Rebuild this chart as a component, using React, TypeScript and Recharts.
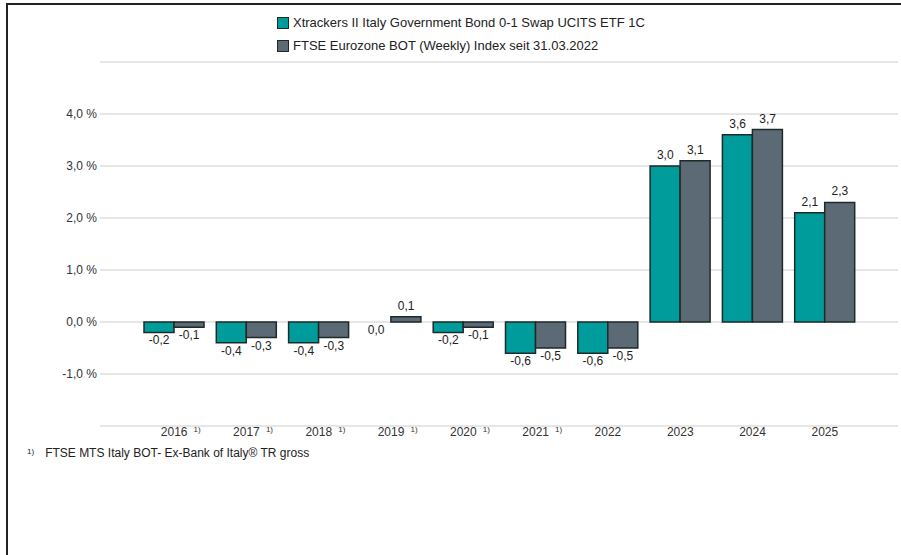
import { ComposedChart, Bar, Line, XAxis, YAxis, CartesianGrid, LabelList } from "recharts";

const years = ["2016", "2017", "2018", "2019", "2020", "2021", "2022", "2023", "2024", "2025"];
const footnoted = ["2016", "2017", "2018", "2019", "2020", "2021"];
const etfValues = [-0.2, -0.4, -0.4, 0.0, -0.2, -0.6, -0.6, 3.0, 3.6, 2.1];
const indexValues = [-0.1, -0.3, -0.3, 0.1, -0.1, -0.5, -0.5, 3.1, 3.7, 2.3];
const yTicks = [-2, -1, 0, 1, 2, 3, 4, 5];

const ETF_NAME = "Xtrackers II Italy Government Bond 0-1 Swap UCITS ETF 1C";
const INDEX_NAME = "FTSE Eurozone BOT (Weekly) Index seit 31.03.2022";
const FOOTNOTE = "FTSE MTS Italy BOT- Ex-Bank of Italy® TR gross";

const TEAL = "#009c9b";
const SLATE = "#5b6a75";
const OUTLINE = "#1e2a2a";
const GRID = "#e6e6e6";
const FONT = "'Liberation Sans', Arial, sans-serif";
const BAR_W = 30;
const W = 901;
const H = 555;
const MARGIN = { top: 62, right: 3, left: 0, bottom: 99 };

const data = years.map((year, i) => ({
  year,
  etf: etfValues[i],
  index: indexValues[i],
}));

const fmt = (v: number) => v.toFixed(1).replace(".", ",");

// labels hang off an invisible line so that a 0,0 value still gets one;
// shift sideways onto the matching bar, above positives, below zero/negatives
const makeLabel = (dx: number) => (props: any) => {
  const { x, y, value } = props;
  const cy = value > 0 ? y - 11 : y + 8;
  return (
    <text
      x={x + dx}
      y={cy}
      textAnchor="middle"
      dominantBaseline="central"
      fontSize={12}
      fontFamily={FONT}
      fill="#222"
    >
      {fmt(value)}
    </text>
  );
};

const YearTick = (props: any) => {
  const { x, y, payload } = props;
  const note = footnoted.includes(payload.value);
  return (
    <g>
      <text x={x} y={y - 2} textAnchor="middle" dominantBaseline="central" fontSize={12} fontFamily={FONT} fill="#333">
        {payload.value}
      </text>
      {note && (
        <text x={x + 23} y={y - 5} textAnchor="middle" dominantBaseline="central" fontSize={8} fontFamily={FONT} fill="#333">
          1)
        </text>
      )}
    </g>
  );
};

const LegendBox = () => (
  <div style={{ fontFamily: FONT, fontSize: 13, color: "#222", lineHeight: "23px" }}>
    {[
      [TEAL, ETF_NAME],
      [SLATE, INDEX_NAME],
    ].map(([color, name]) => (
      <div key={name} style={{ display: "flex", alignItems: "center" }}>
        <span
          style={{
            display: "inline-block",
            width: 10,
            height: 10,
            background: color,
            border: `1px solid ${OUTLINE}`,
            marginRight: 4,
          }}
        />
        {name}
      </div>
    ))}
  </div>
);

export default function App() {
  return (
    <div
      style={{
        position: "absolute",
        left: 0,
        top: 0,
        width: W,
        height: H,
        background: "#fff",
        overflow: "hidden",
      }}
    >
      <div
        style={{
          position: "absolute",
          left: 6,
          top: 3,
          right: 0,
          bottom: 0,
          borderTop: "2px solid #222",
          borderLeft: "2px solid #222",
        }}
      />
      <div style={{ position: "absolute", left: 0, top: 0 }}>
        <ComposedChart width={W} height={H} data={data} margin={MARGIN} barSize={BAR_W} barGap={0}>
          <CartesianGrid vertical={false} stroke={GRID} strokeWidth={2} />
          <XAxis
            dataKey="year"
            axisLine={false}
            tickLine={false}
            height={30}
            padding={{ left: 38, right: 37 }}
            tick={<YearTick />}
            interval={0}
          />
          <YAxis
            width={100}
            domain={[-2, 5]}
            ticks={yTicks}
            axisLine={false}
            tickLine={false}
            tickSize={0}
            tickMargin={3}
            tick={{ fontSize: 12, fontFamily: FONT, fill: "#333" }}
            tickFormatter={(v: number) => (v <= -2 || v >= 5 ? "" : `${fmt(v)} %`)}
          />
          <Bar dataKey="etf" name={ETF_NAME} fill={TEAL} stroke={OUTLINE} strokeWidth={1.5} isAnimationActive={false} />
          <Bar dataKey="index" name={INDEX_NAME} fill={SLATE} stroke={OUTLINE} strokeWidth={1.5} isAnimationActive={false} />
          <Line dataKey="etf" stroke="none" dot={false} activeDot={false} legendType="none" isAnimationActive={false}>
            <LabelList dataKey="etf" content={makeLabel(-BAR_W / 2)} />
          </Line>
          <Line dataKey="index" stroke="none" dot={false} activeDot={false} legendType="none" isAnimationActive={false}>
            <LabelList dataKey="index" content={makeLabel(BAR_W / 2)} />
          </Line>
        </ComposedChart>
      </div>
      <div style={{ position: "absolute", left: 277, top: 11 }}>
        <LegendBox />
      </div>
      <div
        style={{
          position: "absolute",
          left: 27,
          top: 446,
          fontFamily: FONT,
          fontSize: 12,
          color: "#222",
          whiteSpace: "nowrap",
        }}
      >
        <span style={{ fontSize: 8, verticalAlign: 3, marginRight: 11 }}>1)</span>
        {FOOTNOTE}
      </div>
    </div>
  );
}
